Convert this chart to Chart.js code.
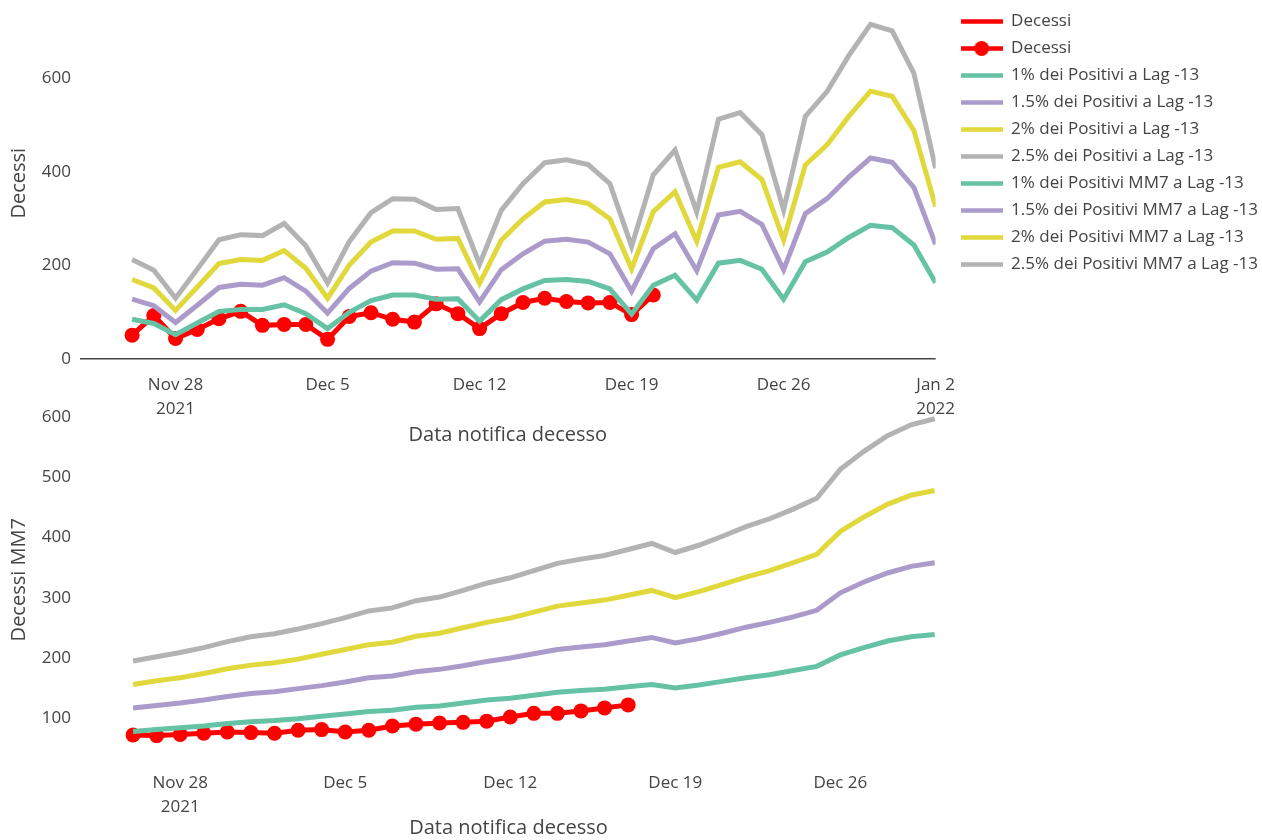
<!DOCTYPE html>
<html>
<head>
<meta charset="utf-8">
<script src="https://cdn.jsdelivr.net/npm/chart.js@4.4.0/dist/chart.umd.min.js"></script>
<style>
    html, body { margin: 0; padding: 0; background: #fff; overflow: hidden; width: 1262px; height: 840px; }
    #wrap { position: relative; width: 1262px; height: 840px; overflow: hidden; }
    #top-box { position: absolute; left: 0; top: 0; width: 1268px; height: 450px; }
    #bottom-box { position: absolute; left: 0; top: 395px; width: 1262px; height: 445px; }
</style>
</head>
<body>
<div id="wrap">
    <div id="top-box"><canvas id="daily-chart"></canvas></div>
    <div id="bottom-box"><canvas id="mm7-chart"></canvas></div>
</div>
<script>
// days, Nov 26 2021 -> Jan 2 2022
const dates = [
    '2021-11-26', '2021-11-27', '2021-11-28', '2021-11-29', '2021-11-30',
    '2021-12-01', '2021-12-02', '2021-12-03', '2021-12-04', '2021-12-05',
    '2021-12-06', '2021-12-07', '2021-12-08', '2021-12-09', '2021-12-10',
    '2021-12-11', '2021-12-12', '2021-12-13', '2021-12-14', '2021-12-15',
    '2021-12-16', '2021-12-17', '2021-12-18', '2021-12-19', '2021-12-20',
    '2021-12-21', '2021-12-22', '2021-12-23', '2021-12-24', '2021-12-25',
    '2021-12-26', '2021-12-27', '2021-12-28', '2021-12-29', '2021-12-30',
    '2021-12-31', '2022-01-01', '2022-01-02'
];

const tickDates = ['2021-11-28', '2021-12-05', '2021-12-12', '2021-12-19', '2021-12-26', '2022-01-02'];
const tickLabels = [['Nov 28', '2021'], 'Dec 5', 'Dec 12', 'Dec 19', 'Dec 26', ['Jan 2', '2022']];

// daily values
const decessi = [51, 93, 44, 63, 86, 102, 72, 74, 74, 42, 91, 99, 85, 79, 118, 97, 65, 97, 121, 130, 123, 120, 121, 95, 137];
const pos1 = [85, 76, 52, 77, 102, 106, 106, 116, 97, 65, 100, 125, 137, 137, 128, 129, 81, 127, 150, 168, 170, 166, 150, 96, 158, 179, 126, 205, 211, 192, 128, 208, 229, 260, 286, 281, 244, 163];
const pos15 = [128, 114, 78, 115, 153, 160, 158, 174, 145, 98, 151, 188, 206, 205, 192, 193, 122, 191, 225, 252, 256, 250, 225, 145, 236, 268, 189, 308, 316, 288, 191, 311, 343, 389, 430, 421, 367, 245];
const pos2 = [170, 152, 104, 154, 204, 213, 211, 232, 194, 130, 201, 250, 274, 274, 256, 258, 162, 254, 300, 336, 341, 333, 300, 193, 315, 358, 252, 410, 422, 384, 255, 415, 458, 519, 573, 562, 489, 326];
const pos25 = [213, 190, 130, 192, 255, 266, 264, 290, 242, 163, 251, 313, 343, 342, 320, 322, 203, 318, 375, 420, 426, 416, 375, 241, 394, 447, 315, 513, 527, 480, 319, 519, 572, 649, 716, 702, 611, 408];

// 7-day moving averages
const decessiMM7 = [72, 71, 73, 75, 77, 76, 75, 80, 81, 77, 80, 87, 90, 92, 93, 95, 102, 108, 108, 112, 117, 122];
const pos1MM7 = [78, 81, 84, 87, 91, 94, 96, 99, 103, 107, 111, 113, 118, 120, 125, 130, 133, 138, 143, 146, 148, 152, 156, 150, 155, 161, 167, 172, 179, 186, 205, 217, 228, 235, 239];
const pos15MM7 = [117, 121, 125, 130, 136, 141, 144, 149, 154, 160, 167, 170, 177, 181, 187, 194, 200, 207, 214, 218, 222, 228, 234, 225, 232, 241, 251, 259, 268, 279, 308, 326, 341, 352, 358];
const pos2MM7 = [156, 162, 167, 174, 182, 188, 192, 198, 206, 214, 222, 226, 236, 241, 250, 259, 266, 276, 286, 291, 296, 304, 312, 300, 310, 322, 334, 345, 358, 372, 410, 434, 455, 470, 478];
const pos25MM7 = [195, 202, 209, 217, 227, 235, 240, 248, 257, 267, 278, 283, 295, 301, 312, 324, 333, 345, 357, 364, 370, 380, 390, 375, 387, 402, 418, 431, 447, 465, 513, 543, 569, 587, 597];

const legendNames = [
    'Decessi', 'Decessi',
    '1% dei Positivi a Lag -13', '1.5% dei Positivi a Lag -13', '2% dei Positivi a Lag -13', '2.5% dei Positivi a Lag -13',
    '1% dei Positivi MM7 a Lag -13', '1.5% dei Positivi MM7 a Lag -13', '2% dei Positivi MM7 a Lag -13', '2.5% dei Positivi MM7 a Lag -13'
];

const RED = '#ff0000';
const GREEN = '#66c2a5';
const PURPLE = '#ab9bcb';
const YELLOW = '#e1d83c';
const GRAY = '#b3b3b3';
const legendColors = [RED, RED, GREEN, PURPLE, YELLOW, GRAY, GREEN, PURPLE, YELLOW, GRAY];

const FONT = "'Open Sans', sans-serif";
const TEXT = '#444';

const dayIndex = (d) => (Date.parse(d) - Date.parse(dates[0])) / 86400000;
const tickDays = tickDates.map(dayIndex);

const toPoints = (values) => values.map((v, i) => ({ x: dayIndex(dates[i]), y: v }));

const lineSet = (label, values, color) => ({
    label: label,
    data: toPoints(values),
    borderColor: color,
    backgroundColor: color,
    borderWidth: 5,
    pointRadius: 0,
    tension: 0,
    fill: false
});

const markerSet = (label, values) => ({
    label: label,
    data: toPoints(values),
    borderColor: RED,
    backgroundColor: RED,
    borderWidth: 5,
    pointRadius: 7.5,
    pointBorderWidth: 0,
    pointBackgroundColor: RED,
    tension: 0,
    fill: false
});

// legend icons: plain line, or line with a dot
const legendIcon = (color, withDot) => {
    const c = document.createElement('canvas');
    c.width = 42;
    c.height = 17;
    const g = c.getContext('2d');
    g.fillStyle = color;
    g.fillRect(0, 6.25, 42, 4.5);
    if (withDot) {
        g.beginPath();
        g.arc(21, 8.5, 7.5, 0, Math.PI * 2);
        g.fill();
    }
    return c;
};

const noEdgePadding = (scale) => {
    scale.paddingTop = 0;
    scale.paddingBottom = 0;
    scale.paddingLeft = 0;
    scale.paddingRight = 0;
};

const xAxis = (min, max, height, titlePad) => ({
    type: 'linear',
    min: min,
    max: max,
    grid: { display: false, drawTicks: false },
    border: { display: false },
    afterBuildTicks: (scale) => {
        scale.ticks = tickDays.filter(v => v >= scale.min && v <= scale.max).map(v => ({ value: v }));
    },
    ticks: {
        maxRotation: 0,
        autoSkip: false,
        padding: 14,
        color: TEXT,
        font: { family: FONT, size: 17, lineHeight: 1.4 },
        callback: (value) => tickLabels[tickDays.indexOf(value)]
    },
    title: {
        display: true,
        text: 'Data notifica decesso',
        color: TEXT,
        font: { family: FONT, size: 20, lineHeight: 1.2 },
        padding: { top: 0, bottom: titlePad }
    },
    afterFit: (scale) => {
        scale.height = height;
        noEdgePadding(scale);
    }
});

const yAxis = (min, max, step, title, showZero) => ({
    min: min,
    max: max,
    grid: {
        display: showZero,
        drawTicks: false,
        lineWidth: 1.5,
        color: (ctx) => (ctx.tick && ctx.tick.value === 0 ? TEXT : 'rgba(0,0,0,0)')
    },
    border: { display: false },
    afterBuildTicks: (scale) => {
        scale.ticks = scale.ticks.filter(t => t.value % step === 0);
    },
    ticks: {
        stepSize: step,
        includeBounds: false,
        padding: 9,
        color: TEXT,
        font: { family: FONT, size: 17 }
    },
    title: {
        display: true,
        text: title,
        color: TEXT,
        font: { family: FONT, size: 20, lineHeight: 1.2 },
        padding: { top: 7.5, bottom: 0 }
    },
    afterFit: (scale) => {
        scale.width = 80;
        noEdgePadding(scale);
    }
});

new Chart(document.getElementById('daily-chart').getContext('2d'), {
    type: 'line',
    data: {
        datasets: [
            lineSet('2.5% dei Positivi a Lag -13', pos25, GRAY),
            lineSet('2% dei Positivi a Lag -13', pos2, YELLOW),
            lineSet('1.5% dei Positivi a Lag -13', pos15, PURPLE),
            lineSet('1% dei Positivi a Lag -13', pos1, GREEN),
            markerSet('Decessi', decessi)
        ]
    },
    options: {
        responsive: true,
        maintainAspectRatio: false,
        animation: false,
        layout: { padding: { top: 3, left: 0, right: 0, bottom: 0 } },
        plugins: {
            tooltip: { enabled: false },
            legend: {
                position: 'right',
                align: 'start',
                maxWidth: 400,
                labels: {
                    usePointStyle: true,
                    pointStyleWidth: 42,
                    padding: 10,
                    color: TEXT,
                    font: { family: FONT, size: 17 },
                    generateLabels: () => legendNames.map((name, i) => ({
                        text: name,
                        fontColor: TEXT,
                        pointStyle: legendIcon(legendColors[i], i === 1),
                        fillStyle: legendColors[i],
                        strokeStyle: legendColors[i],
                        lineWidth: 0,
                        hidden: false,
                        datasetIndex: i
                    }))
                },
                onClick: () => {}
            }
        },
        scales: {
            x: xAxis(-2.4, 37, 91, 3),
            y: yAxis(0, 752, 200, 'Decessi', true),
            yRight: {
                position: 'right',
                display: true,
                grid: { display: false, drawTicks: false },
                border: { display: false },
                ticks: { display: false },
                afterFit: (scale) => {
                    scale.width = 15;
                    noEdgePadding(scale);
                }
            }
        }
    }
});

new Chart(document.getElementById('mm7-chart').getContext('2d'), {
    type: 'line',
    data: {
        datasets: [
            lineSet('2.5% dei Positivi MM7 a Lag -13', pos25MM7, GRAY),
            lineSet('2% dei Positivi MM7 a Lag -13', pos2MM7, YELLOW),
            lineSet('1.5% dei Positivi MM7 a Lag -13', pos15MM7, PURPLE),
            lineSet('1% dei Positivi MM7 a Lag -13', pos1MM7, GREEN),
            markerSet('Decessi', decessiMM7)
        ]
    },
    options: {
        responsive: true,
        maintainAspectRatio: false,
        animation: false,
        layout: { padding: { top: 6, left: 0, right: 325, bottom: 0 } },
        plugins: {
            tooltip: { enabled: false },
            legend: { display: false }
        },
        scales: {
            x: xAxis(-2.25, 34.1, 83, 0),
            y: yAxis(35.5, 624, 100, 'Decessi MM7', false)
        }
    }
});
</script>
</body>
</html>
